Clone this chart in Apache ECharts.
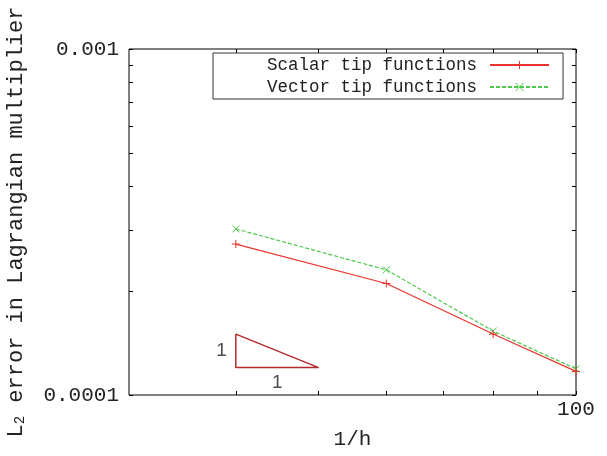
<!DOCTYPE html>
<html>
<head>
<meta charset="utf-8">
<script src="https://cdn.jsdelivr.net/npm/echarts@6/dist/echarts.min.js"></script>
<style>html,body{margin:0;padding:0;background:#fff;}#c{width:607px;height:456px;}</style>
</head>
<body>
<div id="c"></div>
<script>
// 1/h values
const invH = [40, 60, 80, 100];
// L2 error in Lagrangian multiplier
const scalarErr = [2.73e-4, 2.10e-4, 1.50e-4, 1.17e-4];
const vectorErr = [3.02e-4, 2.30e-4, 1.53e-4, 1.19e-4];
// slope-1 reference triangle (1/h, error)
const triX = [40, 40, 50, 40];
const triY = [1.5e-4, 1.2e-4, 1.2e-4, 1.5e-4];
const triLabels = ['1', '1'];
// axis ranges and ticks
const xRange = [30, 100];
const yRange = [1e-4, 1e-3];
const xTickValues = [40, 50, 60, 70, 80, 90, 100];
const xLabelValues = [100];
const yTickValues = [1e-4, 2e-4, 3e-4, 4e-4, 5e-4, 6e-4, 7e-4, 8e-4, 9e-4, 1e-3];
const yLabelValues = [1e-4, 1e-3];
const seriesNames = ['Scalar tip functions', 'Vector tip functions'];

const MONO = '"Liberation Mono", "DejaVu Sans Mono", monospace';
const RED = '#e8342c';
const GREEN = '#4cc84c';
const TRI = '#b52a2a';

const chart = echarts.init(document.getElementById('c'), null, {renderer: 'canvas'});

function pairs(xs, ys) { return xs.map((x, i) => [x, ys[i]]); }
function gmean(a, b) { return Math.sqrt(a * b); }

const tickCommon = {show: true, inside: true, length: 4, lineStyle: {color: '#000', width: 1}};

const option = {
  animation: false,
  backgroundColor: '#fff',
  grid: {left: 129, right: 31, top: 49, bottom: 61, containLabel: false, outerBoundsMode: 'none',
    show: true, borderColor: '#000', borderWidth: 1, backgroundColor: 'transparent'},
  legend: {
    data: seriesNames,
    orient: 'vertical',
    align: 'right',
    left: 213, top: 53,
    padding: [3, 13, 3, 54],
    borderColor: '#333', borderWidth: 1,
    itemWidth: 59, itemHeight: 10, itemGap: 4,
    itemStyle: {borderWidth: 1},
    textStyle: {fontFamily: MONO, fontSize: 17.5, color: '#222', lineHeight: 18, padding: [0, 8, 0, 0]}
  },
  xAxis: [{
    type: 'log', logBase: 10, min: xRange[0], max: xRange[1], position: 'bottom',
    axisLine: {show: false},
    splitLine: {show: false},
    axisTick: Object.assign({customValues: xTickValues}, tickCommon),
    axisLabel: {customValues: xLabelValues, margin: 4, fontFamily: MONO, fontSize: 21, color: '#222', formatter: v => String(Math.round(v))},
    name: '1/h', nameLocation: 'middle', nameGap: 34,
    nameTextStyle: {fontFamily: MONO, fontSize: 21, color: '#222'}
  }, {
    type: 'log', logBase: 10, min: xRange[0], max: xRange[1], position: 'top',
    axisLine: {show: false}, splitLine: {show: false},
    axisTick: Object.assign({customValues: xTickValues}, tickCommon),
    axisLabel: {show: false}
  }],
  yAxis: [{
    type: 'log', logBase: 10, min: yRange[0], max: yRange[1], position: 'left',
    axisLine: {show: false}, splitLine: {show: false},
    axisTick: Object.assign({customValues: yTickValues}, tickCommon),
    axisLabel: {customValues: yLabelValues, margin: 10, fontFamily: MONO, fontSize: 21, color: '#222',
      formatter: v => (Math.abs(v - 1e-3) < 1e-6 ? '0.001' : '0.0001')},
    name: '{m|L}{s|2}{m| error in Lagrangian multiplier}',
    nameLocation: 'middle', nameRotate: 90, nameGap: 102,
    nameTextStyle: {
      color: '#222',
      rich: {
        m: {fontFamily: MONO, fontSize: 22, lineHeight: 22, verticalAlign: 'top', color: '#222'},
        s: {fontFamily: MONO, fontSize: 14, lineHeight: 14, padding: [16, 0, 0, 0], verticalAlign: 'bottom', color: '#222'}
      }
    }
  }, {
    type: 'log', logBase: 10, min: yRange[0], max: yRange[1], position: 'right',
    axisLine: {show: false}, splitLine: {show: false},
    axisTick: Object.assign({customValues: yTickValues}, tickCommon),
    axisLabel: {show: false}
  }],
  series: [{
    name: seriesNames[0], type: 'line', data: pairs(invH, scalarErr),
    symbol: 'path://M0,5L10,5M5,0L5,10', symbolSize: 8,
    lineStyle: {color: RED, width: 1.2, type: 'solid'},
    itemStyle: {color: RED, borderColor: RED, borderWidth: 1},
    z: 3
  }, {
    name: seriesNames[1], type: 'line', data: pairs(invH, vectorErr),
    symbol: 'path://M0,0L10,10M10,0L0,10', symbolSize: 7,
    lineStyle: {color: GREEN, width: 1.2, type: [4, 2]},
    itemStyle: {color: GREEN, borderColor: GREEN, borderWidth: 1},
    z: 2
  }, {
    name: 'triangle', type: 'line', data: pairs(triX, triY),
    symbol: 'none', lineStyle: {color: TRI, width: 1.5}, silent: true, z: 1
  }, {
    name: 'triangleLabels', type: 'scatter', symbolSize: 0, silent: true,
    data: [
      {value: [triX[0], gmean(triY[0], triY[1])], label: {show: true, position: 'left', distance: 9, formatter: triLabels[0]}},
      {value: [gmean(triX[1], triX[2]), triY[1]], label: {show: true, position: 'bottom', distance: 6, formatter: triLabels[1]}}
    ],
    label: {fontFamily: '"Liberation Sans", Arial, sans-serif', fontSize: 19, color: '#222'}
  }]
};
chart.setOption(option);
</script>
</body>
</html>
